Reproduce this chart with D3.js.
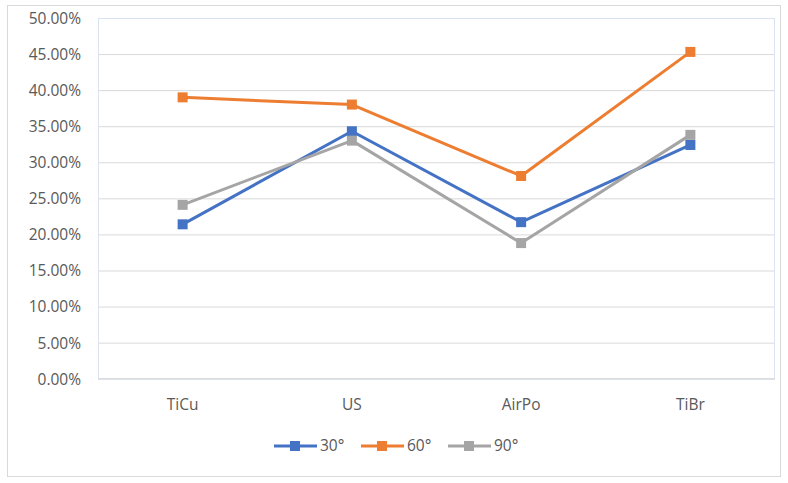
<!DOCTYPE html>
<html>
<head>
<meta charset="utf-8">
<script src="https://cdn.jsdelivr.net/npm/d3@7"></script>
<style>
body { margin: 0; background: #fff; font-family: "Open Sans", "Noto Sans", sans-serif; }
.grid line { stroke: #d9d9d9; stroke-width: 1; }
.axis text { fill: #595959; font-size: 15.5px; font-family: "Open Sans", "Noto Sans", sans-serif; }
</style>
</head>
<body>
<div id="chart"></div>
<script>
// データ
var categories = ["TiCu", "US", "AirPo", "TiBr"];
var seriesNames = ["30°", "60°", "90°"];
var seriesColors = ["#4472C4", "#ED7D31", "#A5A5A5"];
var values30 = [0.214, 0.343, 0.217, 0.324];
var values60 = [0.390, 0.380, 0.281, 0.453];
var values90 = [0.241, 0.330, 0.188, 0.338];
var yTicks = [0, 0.05, 0.10, 0.15, 0.20, 0.25, 0.30, 0.35, 0.40, 0.45, 0.50];

var series = [values30, values60, values90].map(function(v, i){
	return { name: seriesNames[i], color: seriesColors[i], values: v };
});

var W = 788, H = 483;
var plot = { left: 98, right: 775, top: 18, bottom: 378.7 };

var svg = d3.select("#chart").append("svg")
	.attr("width", W)
	.attr("height", H);

// 外枠
svg.append("rect")
	.attr("x", 7.5).attr("y", 5.5)
	.attr("width", 773).attr("height", 471)
	.attr("fill", "#fff")
	.attr("stroke", "#d9d9d9");

var x = d3.scaleBand().domain(categories).range([plot.left, plot.right]);
var y = d3.scaleLinear().domain([0, 0.5]).range([plot.bottom, plot.top]);

// グリッド線
svg.append("g")
	.attr("class", "grid")
	.attr("transform", "translate(" + plot.left + ",0)")
	.call(d3.axisLeft(y).tickValues(yTicks).tickSize(-(plot.right - plot.left)).tickFormat(""))
	.call(function(g){ g.select(".domain").remove(); });

// プロット領域の枠(薄い青)
svg.append("rect")
	.attr("x", plot.left + 0.5).attr("y", plot.top + 0.5)
	.attr("width", plot.right - plot.left - 1).attr("height", plot.bottom - plot.top)
	.attr("fill", "none")
	.attr("stroke", "#dae3f3");

// 0% の線
svg.append("line")
	.attr("x1", plot.left).attr("x2", plot.right)
	.attr("y1", y(0)).attr("y2", y(0))
	.attr("stroke", "#d9d9d9");

// Y軸ラベル
svg.append("g")
	.attr("class", "axis")
	.attr("transform", "translate(" + (plot.left - 17) + ",0)")
	.call(d3.axisLeft(y).tickValues(yTicks).tickSize(0).tickFormat(d3.format(".2%")))
	.call(function(g){ g.select(".domain").remove(); })
	.selectAll("text").attr("dy", "0.35em").attr("x", 0);

// X軸ラベル
svg.append("g")
	.attr("class", "axis")
	.attr("transform", "translate(0," + (y(0) + 26) + ")")
	.call(d3.axisBottom(x).tickSize(0))
	.call(function(g){ g.select(".domain").remove(); })
	.selectAll("text").attr("dy", "0.35em").attr("y", 0);

// 折れ線
var line = d3.line()
	.x(function(d, i){ return x(categories[i]) + x.bandwidth() / 2; })
	.y(function(d){ return y(d); });

series.forEach(function(s){
	svg.append("path")
		.datum(s.values)
		.attr("fill", "none")
		.attr("stroke", s.color)
		.attr("stroke-width", 3)
		.attr("stroke-linejoin", "round")
		.attr("d", line);
	svg.selectAll(null)
		.data(s.values)
		.enter().append("rect")
		.attr("x", function(d, i){ return x(categories[i]) + x.bandwidth() / 2 - 5; })
		.attr("y", function(d){ return y(d) - 5; })
		.attr("width", 10).attr("height", 10)
		.attr("fill", s.color);
});

// 凡例
var legendX = [274, 361, 448];
var legend = svg.append("g").attr("transform", "translate(0,446)");
series.forEach(function(s, i){
	var g = legend.append("g").attr("transform", "translate(" + legendX[i] + ",0)");
	g.append("line").attr("x1", 0).attr("x2", 43).attr("y1", 0).attr("y2", 0)
		.attr("stroke", s.color).attr("stroke-width", 3);
	g.append("rect").attr("x", 16).attr("y", -5).attr("width", 10).attr("height", 10)
		.attr("fill", s.color);
	g.append("text").attr("x", 46).attr("y", 0).attr("dy", "0.35em")
		.attr("fill", "#595959")
		.style("font-size", "15.5px")
		.style("font-family", "'Open Sans', 'Noto Sans', sans-serif")
		.text(s.name);
});
</script>
</body>
</html>
